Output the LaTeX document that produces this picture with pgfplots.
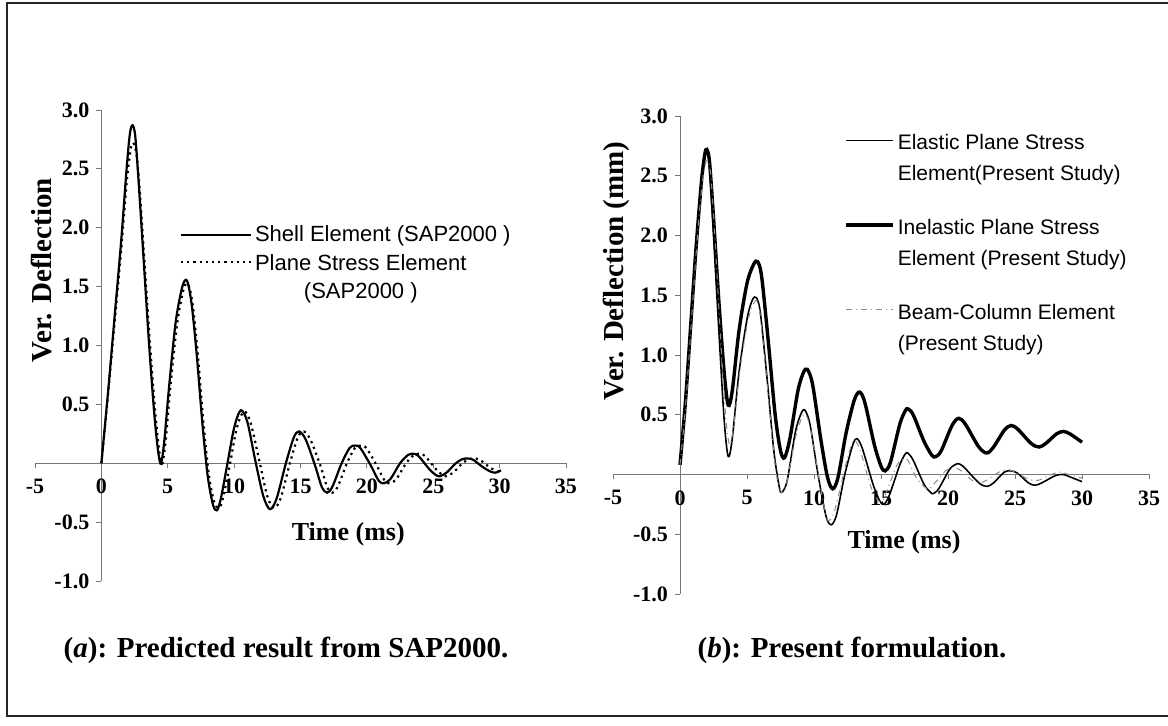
\documentclass[border=0pt]{standalone}
\usepackage{pgfplots}
\pgfplotsset{compat=1.18}
\usepackage{fontspec}
\setmainfont{Liberation Serif}
\newfontfamily\arialf{Liberation Sans}
\definecolor{axgray}{RGB}{120,120,120}
\pgfplotsset{
  myax/.style={
    scale only axis,
    axis lines=middle,
    axis line style={axgray, line width=0.5pt, -},
    xmin=-5, xmax=35, ymin=-1, ymax=3,
    xtick={-5,0,...,35},
    ytick={-1,-0.5,0.5,1,1.5,2,2.5,3},
    hide obscured x ticks=false,
    hide obscured y ticks=false,
    tick align=outside,
    major tick length=2.5pt,
    tick style={axgray, line width=0.4pt},
    minor tick num=0,
    tick label style={font=\fontsize{11}{13}\selectfont\bfseries},
    /pgf/number format/assume math mode=true,
    y tick label style={/pgf/number format/.cd, fixed, fixed zerofill, precision=1},
    x tick label style={yshift=-2pt},
    clip=false,
    legend cell align=left,
  }
}
\begin{document}
\begin{tikzpicture}
\useasboundingbox (0,0) rectangle (584pt,363pt);
\fill[white] (0,0) rectangle (584pt,363pt);
\draw[line width=1pt, black!85] (584pt,361.5pt) -- (3.5pt,361.5pt) -- (3.5pt,5pt) -- (584pt,5pt);

% ---------------- (a) ----------------
\begin{axis}[myax,
  at={(17.5pt,72.5pt)}, anchor=south west, width=265.5pt, height=235.5pt,
  every axis y label/.style={at={(rel axis cs:0.012,0.66)}, rotate=90, anchor=center, font=\fontsize{14.5}{16}\selectfont\bfseries},
  every axis x label/.style={at={(rel axis cs:0.59,0.10)}, anchor=center, font=\fontsize{13}{15}\selectfont\bfseries},
  ylabel={Ver. Deflection}, xlabel={Time (ms)},
  legend image code/.code={\draw[#1] (0pt,0pt) -- (35pt,0pt);},
  legend style={at={(rel axis cs:0.272,0.762)}, anchor=north west, draw=none, fill=none,
    font=\arialf\fontsize{11}{14}\selectfont, row sep=0pt, inner sep=0pt,
    nodes={inner sep=1.5pt}},
]
\addplot[black, line width=1.1pt, smooth] coordinates {
(0,0) (0.5,0.6) (1,1.25) (1.5,1.9) (1.9,2.5) (2.15,2.8) (2.35,2.87) (2.55,2.78) (2.8,2.4) (3.2,1.7) (3.6,1.0) (4.0,0.4) (4.3,0.08) (4.5,0.0) (4.75,0.2) (5.1,0.65) (5.6,1.2) (6.1,1.5) (6.45,1.55) (6.8,1.35) (7.2,0.9) (7.6,0.35) (8.0,-0.1) (8.4,-0.35) (8.7,-0.40) (9.0,-0.3) (9.5,0.0) (10.0,0.3) (10.5,0.45) (11.0,0.35) (11.6,0.02) (12.2,-0.28) (12.7,-0.39) (13.2,-0.3) (13.9,0.0) (14.5,0.22) (14.9,0.27) (15.4,0.2) (16.1,-0.02) (16.6,-0.2) (17.0,-0.25) (17.4,-0.2) (18.1,0) (18.7,0.13) (19.1,0.15) (19.5,0.13) (20.3,-0.02) (20.9,-0.15) (21.3,-0.17) (21.8,-0.13) (22.5,0.0) (23.1,0.07) (23.5,0.08) (23.9,0.06) (24.7,-0.05) (25.2,-0.1) (25.5,-0.11) (26.0,-0.08) (26.7,0.0) (27.2,0.035) (27.6,0.04) (28.0,0.03) (28.7,-0.03) (29.3,-0.07) (29.7,-0.08) (30.1,-0.06)
};
\addlegendentry{Shell Element (SAP2000 )}
\addplot[black, line width=1.1pt, dotted, smooth] coordinates {
(0,0) (0.5,0.58) (1,1.2) (1.5,1.82) (1.9,2.38) (2.2,2.66) (2.4,2.72) (2.65,2.62) (2.9,2.3) (3.3,1.62) (3.7,0.95) (4.1,0.38) (4.4,0.07) (4.6,0.0) (4.85,0.2) (5.2,0.65) (5.7,1.18) (6.2,1.48) (6.55,1.52) (6.9,1.33) (7.3,0.88) (7.7,0.33) (8.1,-0.1) (8.5,-0.33) (8.85,-0.38) (9.15,-0.3) (9.7,0.0) (10.2,0.3) (10.75,0.44) (11.25,0.34) (11.9,0.02) (12.5,-0.28) (13.0,-0.38) (13.5,-0.3) (14.2,0.0) (14.8,0.22) (15.25,0.27) (15.75,0.2) (16.5,-0.02) (17.0,-0.2) (17.4,-0.25) (17.8,-0.2) (18.5,0) (19.1,0.13) (19.55,0.15) (19.95,0.13) (20.75,-0.02) (21.35,-0.15) (21.75,-0.17) (22.25,-0.13) (22.95,0.0) (23.55,0.07) (24.0,0.08) (24.4,0.06) (25.2,-0.05) (25.7,-0.1) (26.0,-0.11) (26.5,-0.08) (27.2,0.0) (27.7,0.035) (28.1,0.04) (28.5,0.03) (29.2,-0.03) (29.8,-0.07) (30.2,-0.07)
};
\addlegendentry{\begin{tabular}[t]{@{}c@{}}Plane Stress Element\\(SAP2000 )\end{tabular}}
\end{axis}

% ---------------- (b) ----------------
\begin{axis}[myax,
  at={(306.5pt,66pt)}, anchor=south west, width=268pt, height=239pt,
  every axis y label/.style={at={(rel axis cs:0.006,0.676)}, rotate=90, anchor=center, font=\fontsize{14.5}{16}\selectfont\bfseries},
  every axis x label/.style={at={(rel axis cs:0.543,0.108)}, anchor=center, font=\fontsize{13}{15}\selectfont\bfseries},
  ylabel={Ver. Deflection (mm)}, xlabel={Time (ms)},
  legend image code/.code={\draw[#1] (0pt,0pt) -- (23.5pt,0pt);},
  legend style={at={(rel axis cs:0.431,0.982)}, anchor=north west, draw=none, fill=none,
    font=\arialf\fontsize{10.5}{15.5}\selectfont, row sep=27pt, inner sep=0pt,
    nodes={inner sep=1.5pt}},
]
\addplot[black, line width=0.8pt, smooth] coordinates {
(0,0.08) (0.4,0.6) (0.8,1.25) (1.2,1.9) (1.6,2.45) (1.85,2.66) (2.0,2.7) (2.2,2.58) (2.5,2.0) (2.9,1.2) (3.3,0.45) (3.6,0.15) (3.9,0.3) (4.4,0.85) (5.0,1.3) (5.4,1.46) (5.7,1.48) (6.0,1.35) (6.5,0.8) (7.0,0.2) (7.4,-0.1) (7.6,-0.15) (8.0,-0.05) (8.6,0.35) (9.0,0.5) (9.3,0.54) (9.7,0.42) (10.3,0.0) (10.9,-0.35) (11.3,-0.42) (11.7,-0.33) (12.3,0.0) (12.9,0.25) (13.2,0.3) (13.6,0.22) (14.4,-0.08) (14.9,-0.22) (15.2,-0.25) (15.6,-0.18) (16.4,0.08) (16.8,0.17) (17.0,0.18) (17.4,0.12) (18.2,-0.08) (18.7,-0.15) (18.9,-0.16) (19.3,-0.12) (20.1,0.04) (20.5,0.08) (20.8,0.09) (21.2,0.06) (22.3,-0.07) (22.9,-0.1) (23.4,-0.07) (24.2,0.02) (24.7,0.03) (25.2,0.01) (26.0,-0.07) (26.5,-0.09) (27.0,-0.07) (28.0,-0.01) (28.6,0.0) (29.1,-0.02) (30.0,-0.06)
};
\addlegendentry{\begin{tabular}[t]{@{}l@{}}Elastic Plane Stress\\Element(Present Study)\end{tabular}}
\addplot[black, line width=1.7pt, smooth] coordinates {
(0,0.08) (0.4,0.6) (0.8,1.25) (1.2,1.9) (1.6,2.45) (1.85,2.68) (2.0,2.72) (2.2,2.62) (2.5,2.15) (2.9,1.45) (3.3,0.85) (3.6,0.58) (3.9,0.7) (4.4,1.2) (5.0,1.6) (5.5,1.76) (5.8,1.78) (6.1,1.65) (6.6,1.1) (7.1,0.5) (7.5,0.2) (7.8,0.14) (8.2,0.3) (8.8,0.7) (9.2,0.85) (9.5,0.88) (9.9,0.75) (10.5,0.3) (11.0,-0.02) (11.4,-0.12) (11.8,-0.02) (12.4,0.35) (13.0,0.62) (13.4,0.69) (13.8,0.6) (14.5,0.25) (15.0,0.07) (15.3,0.03) (15.7,0.1) (16.4,0.42) (16.8,0.53) (17.0,0.55) (17.4,0.5) (18.2,0.28) (18.8,0.16) (19.1,0.15) (19.5,0.2) (20.3,0.41) (20.8,0.47) (21.3,0.42) (22.3,0.23) (22.9,0.18) (23.4,0.23) (24.2,0.37) (24.7,0.41) (25.2,0.38) (26.2,0.26) (26.8,0.23) (27.3,0.26) (28.1,0.34) (28.6,0.36) (29.1,0.34) (30.0,0.27)
};
\addlegendentry{\begin{tabular}[t]{@{}l@{}}Inelastic Plane Stress\\Element (Present Study)\end{tabular}}
\addplot[black!45, line width=0.5pt, dash dot, smooth] coordinates {
(0,0.08) (0.4,0.55) (0.8,1.2) (1.2,1.85) (1.6,2.38) (1.9,2.6) (2.1,2.62) (2.3,2.5) (2.6,2.0) (3.0,1.2) (3.4,0.5) (3.7,0.25) (4.0,0.4) (4.5,0.9) (5.1,1.3) (5.6,1.45) (5.9,1.4) (6.3,1.0) (6.8,0.4) (7.2,0.0) (7.6,-0.15) (8.0,-0.05) (8.6,0.3) (9.1,0.48) (9.4,0.5) (9.8,0.35) (10.4,-0.05) (10.9,-0.35) (11.2,-0.38) (11.6,-0.28) (12.3,0.05) (12.8,0.25) (13.1,0.28) (13.5,0.18) (14.3,-0.12) (14.8,-0.22) (15.1,-0.22) (15.5,-0.12) (16.2,0.08) (16.7,0.13) (17.0,0.12) (17.6,-0.02) (18.2,-0.1) (18.6,-0.12) (19.1,-0.06) (19.8,0.03) (20.4,0.06) (21.0,0.03) (21.8,-0.05) (22.4,-0.07) (23.0,-0.04) (23.8,0.02) (24.5,0.04) (25.2,0.01) (26.0,-0.04) (26.7,-0.05) (27.5,-0.01) (28.3,0.02) (29.0,0.0) (30.0,-0.03)
};
\addlegendentry{\begin{tabular}[t]{@{}l@{}}Beam-Column Element\\(Present Study)\end{tabular}}
\end{axis}

\node at (143pt,38pt) {\fontsize{14.5}{17}\selectfont\bfseries (\textit{a}): Predicted result from SAP2000.};
\node at (426pt,38pt) {\fontsize{14.5}{17}\selectfont\bfseries (\textit{b}): Present formulation.};
\end{tikzpicture}
\end{document}
